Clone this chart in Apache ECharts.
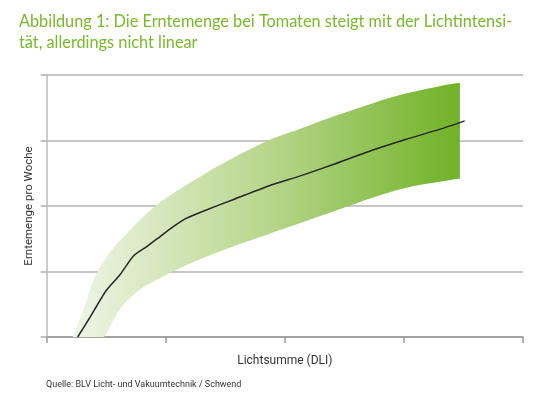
<!DOCTYPE html>
<html>
<head>
<meta charset="utf-8">
<script src="https://cdn.jsdelivr.net/npm/echarts@6/dist/echarts.min.js"></script>
<style>
html, body { margin: 0; padding: 0; background: #fff; }
#main { width: 540px; height: 406px; }
</style>
</head>
<body>
<div id="main"></div>
<script>
var myChart = echarts.init(document.getElementById('main'));

// Band (range of yields)
var bandX     = [0.22, 0.30, 0.40, 0.48, 0.56, 0.64, 0.78, 0.92, 1.06, 1.20, 1.50, 1.86, 2.13, 2.43, 2.74, 3.02, 3.30, 3.47];
var bandUpper = [0.00, 0.38, 0.90, 1.16, 1.36, 1.52, 1.78, 2.01, 2.19, 2.35, 2.67, 3.00, 3.18, 3.38, 3.57, 3.72, 3.83, 3.88];
var bandLower = [0.00, 0.00, 0.00, 0.00, 0.26, 0.48, 0.72, 0.87, 1.00, 1.12, 1.34, 1.57, 1.74, 1.93, 2.13, 2.28, 2.37, 2.42];

// Mean curve
var lineX = [0.26, 0.36, 0.50, 0.615, 0.73, 0.84, 0.95, 1.06, 1.17, 1.34, 1.57, 1.87, 2.13, 2.40, 2.74, 3.02, 3.30, 3.51];
var lineY = [0.00, 0.29, 0.71, 0.95, 1.24, 1.38, 1.53, 1.68, 1.81, 1.94, 2.10, 2.31, 2.46, 2.63, 2.855, 3.02, 3.17, 3.30];

var xTicks = [0, 1, 2, 3, 4];
var yTicks = [0, 1, 2, 3, 4];

function pairs(xs, ys) {
    var res = [];
    for (var i = 0; i < xs.length; i++) {
        res.push([xs[i], ys[i]]);
    }
    return res;
}

var bandData = [];
for (var i = 0; i < bandX.length; i++) {
    bandData.push([bandX[i], bandLower[i], bandUpper[i]]);
}

// catmull-rom through pixel points -> cubic bezier path segments
function curveTo(p) {
    var d = '';
    for (var i = 0; i < p.length - 1; i++) {
        var a = p[Math.max(i - 1, 0)], b = p[i], c = p[i + 1], e = p[Math.min(i + 2, p.length - 1)];
        var c1x = b[0] + (c[0] - a[0]) / 6, c1y = b[1] + (c[1] - a[1]) / 6;
        var c2x = c[0] - (e[0] - b[0]) / 6, c2y = c[1] - (e[1] - b[1]) / 6;
        d += ' C' + c1x + ',' + c1y + ' ' + c2x + ',' + c2y + ' ' + c[0] + ',' + c[1];
    }
    return d;
}

// one shape: upper edge left->right, straight right edge, lower edge back
function renderBand(params, api) {
    if (params.dataIndex !== 0) {
        return;
    }
    var up = [], low = [];
    for (var i = 0; i < bandData.length; i++) {
        up.push(api.coord([bandData[i][0], bandData[i][2]]));
    }
    for (var j = bandData.length - 1; j >= 0; j--) {
        low.push(api.coord([bandData[j][0], bandData[j][1]]));
    }
    var d = 'M' + up[0][0] + ',' + up[0][1] + curveTo(up)
        + ' L' + low[0][0] + ',' + low[0][1] + curveTo(low) + ' Z';
    var x0 = up[0][0];
    var x1 = up[up.length - 1][0];
    return {
        type: 'path',
        shape: { pathData: d },
        style: {
            fill: new echarts.graphic.LinearGradient(x0, 0, x1, 0, [
                { offset: 0, color: '#eef5e6' },
                { offset: 0.5, color: '#b8d68c' },
                { offset: 1, color: '#70b227' }
            ], true)
        }
    };
}

var sans = 'Roboto, "Liberation Sans", Arial, sans-serif';

option = {
    backgroundColor: '#fff',
    animation: false,
    title: [{
        text: 'Abbildung 1: Die Erntemenge bei Tomaten steigt mit der Lichtintensi-\ntät, allerdings nicht linear',
        left: 19,
        top: 11,
        padding: 0,
        textStyle: {
            color: '#7ab82c',
            fontFamily: 'Lato, sans-serif',
            fontSize: 16.3,
            fontWeight: 'normal',
            lineHeight: 21
        }
    }, {
        text: 'Quelle: BLV Licht- und Vakuumtechnik / Schwend',
        left: 46,
        top: 380,
        padding: 0,
        textStyle: {
            color: '#333',
            fontFamily: sans,
            fontSize: 9,
            fontWeight: 'normal'
        }
    }],
    grid: {
        left: 46.7,
        right: 17,
        top: 75,
        bottom: 69
    },
    xAxis: {
        type: 'value',
        min: xTicks[0],
        max: xTicks[xTicks.length - 1],
        interval: 1,
        name: 'Lichtsumme (DLI)',
        nameLocation: 'middle',
        nameGap: 18,
        nameTextStyle: {
            color: '#333',
            fontFamily: sans,
            fontSize: 12
        },
        axisLine: { show: true, lineStyle: { color: '#999', width: 1.5 } },
        axisTick: { show: true, length: 6, lineStyle: { color: '#999', width: 1.5 } },
        axisLabel: { show: false },
        splitLine: { show: false }
    },
    yAxis: {
        type: 'value',
        min: yTicks[0],
        max: yTicks[yTicks.length - 1],
        interval: 1,
        name: 'Erntemenge pro Woche',
        nameLocation: 'middle',
        nameGap: 12,
        nameTextStyle: {
            color: '#333',
            fontFamily: sans,
            fontSize: 11.5
        },
        axisLine: { show: true, lineStyle: { color: '#bbb', width: 1.5 } },
        axisTick: { show: true, length: 6, lineStyle: { color: '#b0b0b0', width: 1.5 } },
        axisLabel: { show: false },
        splitLine: { show: true, lineStyle: { color: '#b5b5b5', width: 1.5 } }
    },
    series: [{
        name: 'band',
        type: 'custom',
        renderItem: renderBand,
        data: bandData,
        clip: true,
        silent: true,
        z: 2
    }, {
        name: 'mean',
        type: 'line',
        data: pairs(lineX, lineY),
        smooth: 0.2,
        symbol: 'none',
        lineStyle: { color: '#262626', width: 1.5 },
        z: 5
    }]
};

myChart.setOption(option);
</script>
</body>
</html>
